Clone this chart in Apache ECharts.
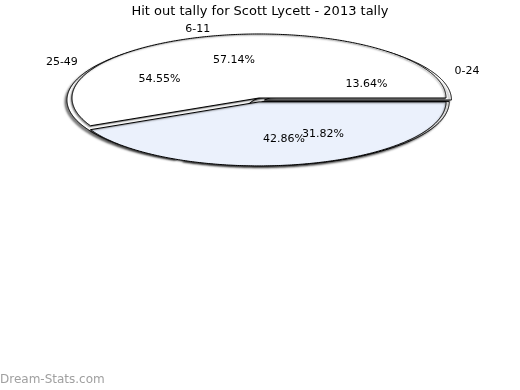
<!DOCTYPE html>
<html><head><meta charset="utf-8">
<script src="https://cdn.jsdelivr.net/npm/echarts@6/dist/echarts.min.js"></script>
<style>html,body{margin:0;padding:0;background:#fff}#c{width:520px;height:390px}</style>
</head><body><div id="c"></div>
<script>
// Data (percentages as printed in the chart)
const ringANames = ['6-11', '25-49'];
const ringAValues = [57.14, 42.86];
const ringAShowName = [true, false];
const ringBNames = ['0-24', '25-49', '6-11'];
const ringBValues = [13.64, 54.55, 31.82];
const ringBShowName = [true, true, false];
const titleText = 'Hit out tally for Scott Lycett - 2013 tally';
const watermark = 'Dream-Stats.com';

// Layout / style
const CX = 259, RX = 187, RY = 64;
const CYS = [98, 100];
const FILLS = [['#ffffff', '#ebf1fc'], ['#ffffff', '#ffffff', '#ffffff']];
const EXPLODE = [[[0, 0], [0, 4]], [[6, 0], [6, 0], [6, 2]]];
const SHADOW = [[-1, 1, 1.5, 'rgba(0,0,0,0.45)'], [-2, 2, 2, 'rgba(0,0,0,0.5)']];
const FONT = 'DejaVu Sans';

const rings = [
  {names: ringANames, values: ringAValues, show: ringAShowName},
  {names: ringBNames, values: ringBValues, show: ringBShowName}
];
// build items: back ring (B) first, then ring A on top
const items = [];
[1, 0].forEach(function (r) {
  let cum = 0;
  rings[r].values.forEach(function (v, i) {
    items.push([cum, v, r, i]);
    cum += v;
  });
});

function centerOf(r, i, mid) {
  const ex = EXPLODE[r][i];
  return [CX + ex[0] * Math.cos(mid), CYS[r] - ex[1] * Math.sin(mid)];
}

function renderSlice(params, api) {
  const start = api.value(0), val = api.value(1), r = api.value(2), i = api.value(3);
  const a0 = start / 100 * 2 * Math.PI, a1 = (start + val) / 100 * 2 * Math.PI;
  const mid = (a0 + a1) / 2;
  const c = centerOf(r, i, mid);
  const pts = [[c[0], c[1]]];
  const n = Math.max(4, Math.ceil((a1 - a0) / 0.01));
  for (let k = 0; k <= n; k++) {
    const a = a0 + (a1 - a0) * k / n;
    pts.push([c[0] + RX * Math.cos(a), c[1] - RY * Math.sin(a)]);
  }
  const s = SHADOW[r];
  return {
    type: 'polygon',
    shape: {points: pts},
    style: {
      fill: FILLS[r][i], stroke: '#000', lineWidth: 1,
      shadowColor: s[3], shadowBlur: s[2], shadowOffsetX: s[0], shadowOffsetY: s[1]
    }
  };
}

function renderLabel(params, api) {
  const start = api.value(0), val = api.value(1), r = api.value(2), i = api.value(3);
  const a0 = start / 100 * 2 * Math.PI, a1 = (start + val) / 100 * 2 * Math.PI;
  const mid = (a0 + a1) / 2;
  const c = centerOf(r, i, mid);
  const children = [{
    type: 'text',
    style: {
      text: val.toFixed(2) + '%',
      x: c[0] + 0.6 * RX * Math.cos(mid), y: c[1] - 0.6 * RY * Math.sin(mid),
      align: 'center', verticalAlign: 'middle',
      font: '11px "' + FONT + '"', fill: '#000'
    }
  }];
  if (rings[r].show[i]) {
    const left = Math.cos(mid) < 0;
    children.push({
      type: 'text',
      style: {
        text: rings[r].names[i],
        x: c[0] + 1.1 * RX * Math.cos(mid) + (left ? -3 : 3),
        y: c[1] - 1.1 * RY * Math.sin(mid),
        align: left ? 'right' : 'left', verticalAlign: 'middle',
        font: '11px "' + FONT + '"', fill: '#000'
      }
    });
  }
  return {type: 'group', children: children};
}

const chart = echarts.init(document.getElementById('c'), null, {renderer: 'canvas'});
chart.setOption({
  animation: false,
  backgroundColor: '#fff',
  title: {
    text: titleText, left: 'center', top: 0,
    textStyle: {fontFamily: FONT, fontSize: 13, fontWeight: 'normal', color: '#000'}
  },
  graphic: [{
    type: 'text', left: 0, top: 374,
    style: {text: watermark, font: '12px "' + FONT + '"', fill: '#a0a0a0'}
  }],
  series: [
    {type: 'custom', coordinateSystem: 'none', renderItem: renderSlice, data: items, z: 2, silent: true},
    {type: 'custom', coordinateSystem: 'none', renderItem: renderLabel, data: items, z: 3, silent: true}
  ]
});
</script></body></html>
